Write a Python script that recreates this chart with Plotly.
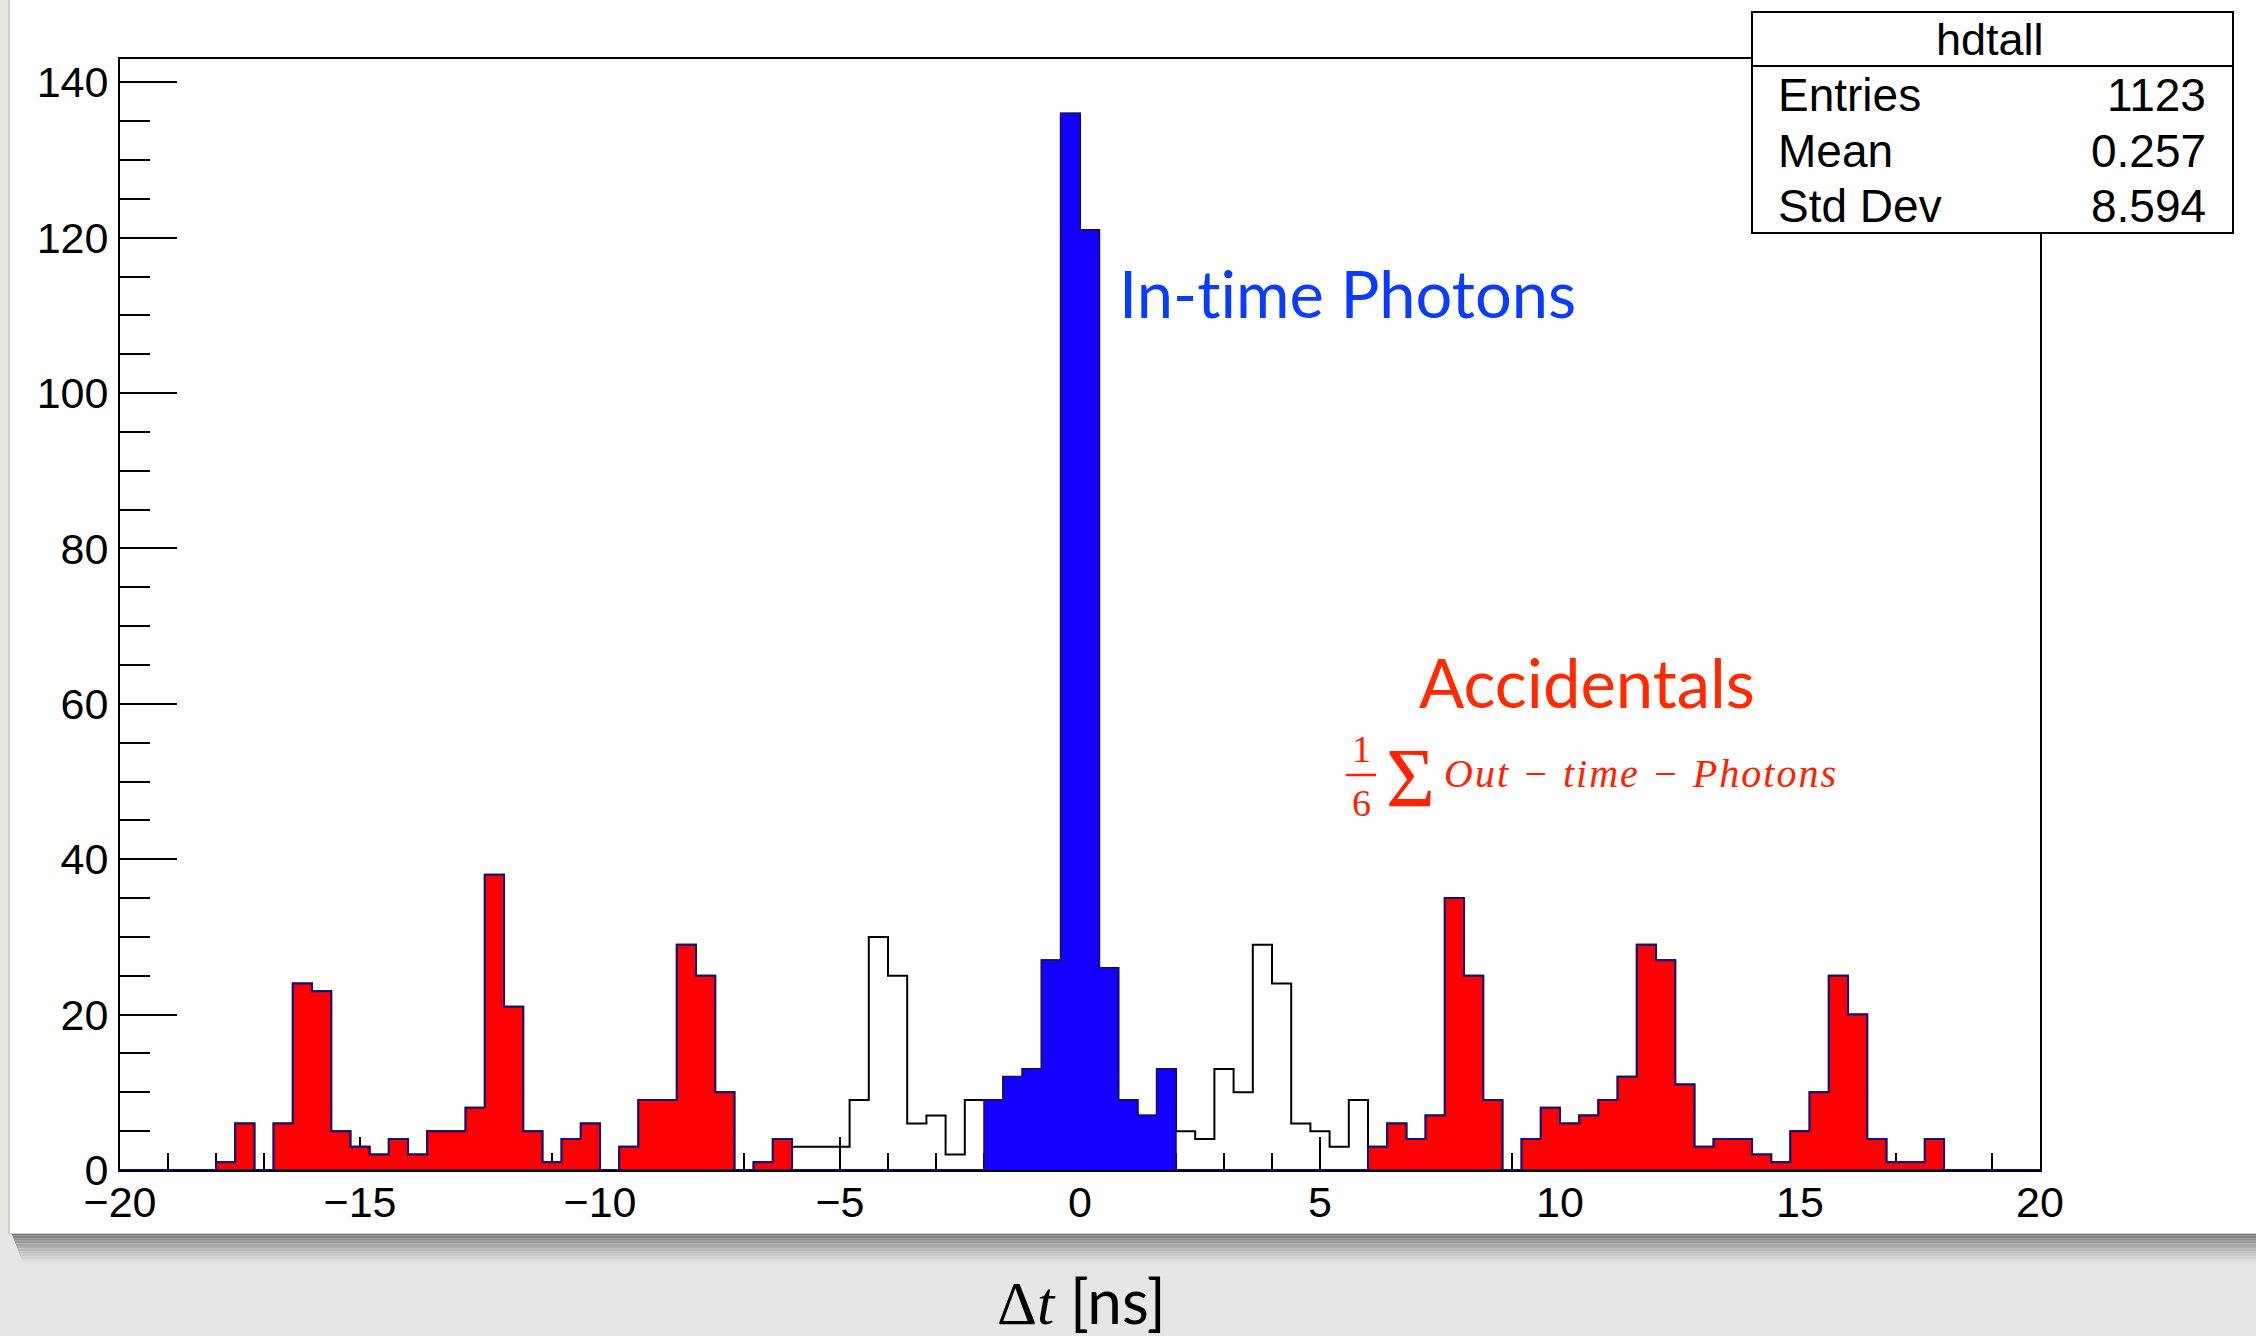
import numpy as np
import plotly.graph_objects as go

# ---------------- data (counts per 0.4 ns bin) ----------------
X_MIN, X_MAX, N_BINS = -20.0, 20.0, 100

EMPTY_LEFT = [0, 0, 0, 0, 0]                                   # [-20, -18)
ACC_LEFT = [1, 6, 0, 6, 24, 23, 5, 3, 2, 4, 2, 5, 5, 8, 38,
            21, 5, 1, 4, 6, 0, 3, 9, 9, 29, 25, 10, 0, 1, 4]     # [-18, -6)
OUT_LEFT = [3, 3, 3, 9, 30, 25, 6, 7, 2, 9]                    # [-6, -2)
IN_TIME = [9, 12, 13, 27, 136, 121, 26, 9, 7, 13]              # [-2, 2)
OUT_RIGHT = [5, 4, 13, 10, 29, 24, 6, 5, 3, 9]                 # [2, 6)
ACC_RIGHT = [3, 6, 4, 7, 35, 25, 9, 0, 4, 8, 6, 7, 9, 12, 29,
             27, 11, 3, 4, 4, 2, 1, 5, 10, 25, 20, 4, 1, 1, 4]  # [6, 18)
EMPTY_RIGHT = [0, 0, 0, 0, 0]                                  # [18, 20)

STATS_TITLE = "hdtall"
STATS_ROWS = [("Entries", "1123"), ("Mean", "0.257"), ("Std Dev", "8.594")]

# ---------------- assemble histograms ----------------
all_counts = EMPTY_LEFT + ACC_LEFT + OUT_LEFT + IN_TIME + OUT_RIGHT + ACC_RIGHT + EMPTY_RIGHT
edges = np.linspace(X_MIN, X_MAX, N_BINS + 1)
z = lambda n: [0] * n
acc_counts = z(5) + ACC_LEFT + z(10) + z(10) + z(10) + ACC_RIGHT + z(5)
in_counts = z(5) + z(30) + z(10) + IN_TIME + z(10) + z(30) + z(5)

xs = list(edges)
def step_y(c):
    return list(c) + [c[-1]]

NAVY = "#10107a"
RED = "#ff0000"
BLUE = "#1400ff"

fig = go.Figure()
fig.add_trace(go.Scatter(x=xs, y=step_y(all_counts), mode="lines",
                         line=dict(shape="hv", color="black", width=2),
                         hoverinfo="skip", showlegend=False))
fig.add_trace(go.Scatter(x=xs, y=step_y(acc_counts), mode="lines", fill="tozeroy",
                         fillcolor=RED, line=dict(shape="hv", color=NAVY, width=2),
                         hoverinfo="skip", showlegend=False))
fig.add_trace(go.Scatter(x=xs, y=step_y(in_counts), mode="lines", fill="tozeroy",
                         fillcolor=BLUE, line=dict(shape="hv", color=NAVY, width=1.5),
                         hoverinfo="skip", showlegend=False))

# ---------------- geometry helpers (pixel -> paper) ----------------
W, H = 2256, 1336
ML, MR, MT, MB = 120, 216, 59, 166
PW, PH = W - ML - MR, H - MT - MB
BOT = H - MB

def px(p):
    return (p - ML) / PW

def py(p):
    return (BOT - p) / PH

shapes = []
# soft shadow under the white canvas
n_sh = 12
for i in range(n_sh):
    t = i / (n_sh - 1)
    c = int(round(0x72 + (0xe4 - 0x72) * t ** 0.8))
    shapes.append(dict(type="rect", xref="paper", yref="paper", layer="below",
                       x0=px(12 + i), x1=px(W + 5), y0=py(1233 + 2.6 * i), y1=py(1233 + 2.6 * (i + 1)),
                       fillcolor=f"rgb({c},{c},{c})", line=dict(width=0)))
shapes.append(dict(type="rect", xref="paper", yref="paper", layer="below",
                   x0=px(8), x1=px(W + 5), y0=py(-5), y1=py(1234),
                   fillcolor="#cfcfcf", line=dict(width=0)))
shapes.append(dict(type="rect", xref="paper", yref="paper", layer="below",
                   x0=px(10), x1=px(W + 5), y0=py(-5), y1=py(1233),
                   fillcolor="white", line=dict(width=0)))
# stats box
shapes.append(dict(type="rect", xref="paper", yref="paper", layer="above",
                   x0=px(1752), x1=px(2233), y0=py(12), y1=py(233),
                   fillcolor="white", line=dict(color="black", width=2)))
shapes.append(dict(type="line", xref="paper", yref="paper", layer="above",
                   x0=px(1752), x1=px(2233), y0=py(66), y1=py(66),
                   line=dict(color="black", width=2)))
# fraction bar
shapes.append(dict(type="line", xref="paper", yref="paper", layer="above",
                   x0=px(1346), x1=px(1376), y0=py(775), y1=py(775),
                   line=dict(color="#ff2200", width=2.5)))

ann = []
def add_text(text, x, y, size, color="black", family="Liberation Sans",
             xanchor="center", yanchor="middle", style="normal"):
    ann.append(dict(text=text, x=px(x), y=py(y), xref="paper", yref="paper",
                    xanchor=xanchor, yanchor=yanchor, showarrow=False,
                    font=dict(size=size, color=color, family=family, style=style)))

add_text(STATS_TITLE, 1990, 40, 45)
for (lab, val), yy in zip(STATS_ROWS, [95, 151, 206]):
    add_text(lab, 1776, yy, 46, xanchor="left")
    add_text(val, 2208, yy, 46, xanchor="right")

add_text("In-t\u200cime Photons", 1117, 293, 65, color="#0a3cff", family="Lato", xanchor="left")
add_text("Accidentals", 1417, 682, 67, color="#ff2a00", family="Lato", xanchor="left")
add_text("1", 1361, 749, 38, color="#ff2200", family="Liberation Serif")
add_text("6", 1361, 803, 38, color="#ff2200", family="Liberation Serif")
add_text("Σ", 1410, 778, 84, color="#ff2200", family="Liberation Serif")
add_text('<span style="letter-spacing:2px">Out − time − Photons</span>', 1442, 773, 40,
         color="#ff2200", family="Liberation Serif", xanchor="left", style="italic")
add_text('<span style="font-family:Liberation Serif">Δ<i>t</i></span> [ns]',
         1081, 1300, 62, family="Lato")

fig.update_layout(
    width=W, height=H,
    margin=dict(l=ML, r=MR, t=MT, b=MB, pad=0),
    paper_bgcolor="#e6e6e5",
    plot_bgcolor="rgba(0,0,0,0)",
    shapes=shapes, annotations=ann, showlegend=False,
    xaxis=dict(range=[X_MIN, X_MAX], showgrid=False, zeroline=False,
               showline=True, linecolor="black", linewidth=2, mirror=True,
               ticks="inside", ticklen=33, tickwidth=2, tickcolor="black",
               tick0=0, dtick=5, layer="below traces",
               minor=dict(ticks="inside", dtick=1, ticklen=17, tickwidth=2, tickcolor="black"),
               tickfont=dict(family="Liberation Sans", size=43, color="black"),
               ticklabelstandoff=-7),
    yaxis=dict(range=[0, 143], showgrid=False, zeroline=False,
               showline=True, linecolor="black", linewidth=2, mirror=True,
               ticks="inside", ticklen=57, tickwidth=2, tickcolor="black",
               tick0=0, dtick=20, layer="below traces",
               minor=dict(ticks="inside", dtick=5, ticklen=30, tickwidth=2, tickcolor="black"),
               tickfont=dict(family="Liberation Sans", size=43, color="black"),
               ticklabelstandoff=1),
)

fig.write_html("out.html", config={"displayModeBar": False},
               post_script="document.body.style.margin='0';document.body.style.overflow='hidden';")
